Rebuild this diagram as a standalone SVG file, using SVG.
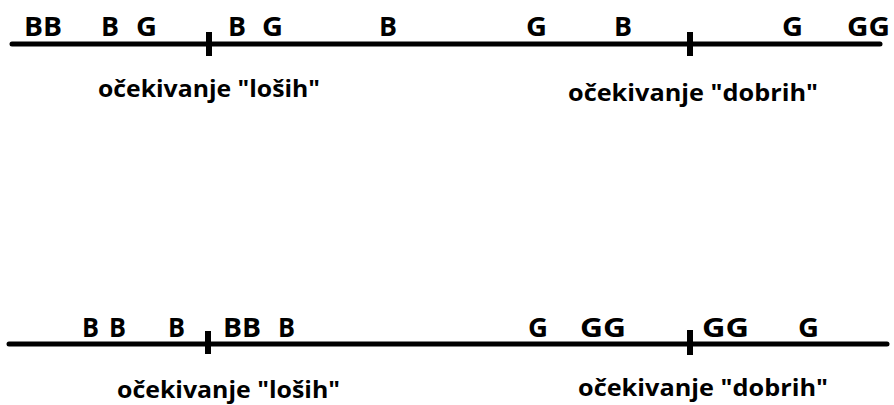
<svg xmlns="http://www.w3.org/2000/svg" width="894" height="405" viewBox="0 0 894 405">
<style>
.axis{stroke:#000;stroke-width:5;stroke-linecap:round;fill:none}
.tick{stroke:#000;stroke-width:6;fill:none}
.mk{font-family:"Open Sans","Liberation Sans",sans-serif;font-weight:bold;font-size:27px;fill:#000}
.lbl{font-family:"Open Sans","Liberation Sans",sans-serif;font-weight:bold;font-size:23px;fill:#000}
</style>
<rect width="894" height="405" fill="#fff"/>
<g id="connectors">
<line class="axis" x1="12" y1="44" x2="880" y2="44"/>
<line class="tick" x1="209" y1="32" x2="209" y2="56"/>
<line class="tick" x1="690" y1="32" x2="690" y2="56"/>
<line class="axis" x1="9" y1="344" x2="887" y2="344"/>
<line class="tick" x1="208" y1="331" x2="208" y2="354"/>
<line class="tick" x1="690" y1="330" x2="690" y2="355"/>
</g>
<g id="top-markers">
<text class="mk" x="24" y="36" textLength="38" lengthAdjust="spacingAndGlyphs">BB</text>
<text class="mk" x="101" y="36" textLength="18" lengthAdjust="spacingAndGlyphs">B</text>
<text class="mk" x="136" y="36" textLength="21" lengthAdjust="spacingAndGlyphs">G</text>
<text class="mk" x="228" y="36" textLength="18" lengthAdjust="spacingAndGlyphs">B</text>
<text class="mk" x="262" y="36" textLength="21" lengthAdjust="spacingAndGlyphs">G</text>
<text class="mk" x="379" y="36" textLength="18" lengthAdjust="spacingAndGlyphs">B</text>
<text class="mk" x="526" y="36" textLength="21" lengthAdjust="spacingAndGlyphs">G</text>
<text class="mk" x="614" y="36" textLength="18" lengthAdjust="spacingAndGlyphs">B</text>
<text class="mk" x="782" y="36" textLength="21" lengthAdjust="spacingAndGlyphs">G</text>
<text class="mk" x="847" y="36" textLength="43" lengthAdjust="spacingAndGlyphs">GG</text>
</g>
<g id="bottom-markers">
<text class="mk" x="82" y="337" textLength="17" lengthAdjust="spacingAndGlyphs">B</text>
<text class="mk" x="109" y="337" textLength="17" lengthAdjust="spacingAndGlyphs">B</text>
<text class="mk" x="168" y="337" textLength="17" lengthAdjust="spacingAndGlyphs">B</text>
<text class="mk" x="223" y="337" textLength="38" lengthAdjust="spacingAndGlyphs">BB</text>
<text class="mk" x="278" y="337" textLength="17" lengthAdjust="spacingAndGlyphs">B</text>
<text class="mk" x="528" y="337" textLength="20" lengthAdjust="spacingAndGlyphs">G</text>
<text class="mk" x="580" y="337" textLength="46" lengthAdjust="spacingAndGlyphs">GG</text>
<text class="mk" x="702" y="337" textLength="47" lengthAdjust="spacingAndGlyphs">GG</text>
<text class="mk" x="798" y="337" textLength="21" lengthAdjust="spacingAndGlyphs">G</text>
</g>
<g id="label-top-left"><text class="lbl" x="98" y="97" textLength="222" lengthAdjust="spacingAndGlyphs">očekivanje "loših"</text></g>
<g id="label-top-right"><text class="lbl" x="568" y="101" textLength="250" lengthAdjust="spacingAndGlyphs">očekivanje "dobrih"</text></g>
<g id="label-bottom-left"><text class="lbl" x="117" y="398" textLength="223" lengthAdjust="spacingAndGlyphs">očekivanje "loših"</text></g>
<g id="label-bottom-right"><text class="lbl" x="578" y="396" textLength="250" lengthAdjust="spacingAndGlyphs">očekivanje "dobrih"</text></g>
</svg>
